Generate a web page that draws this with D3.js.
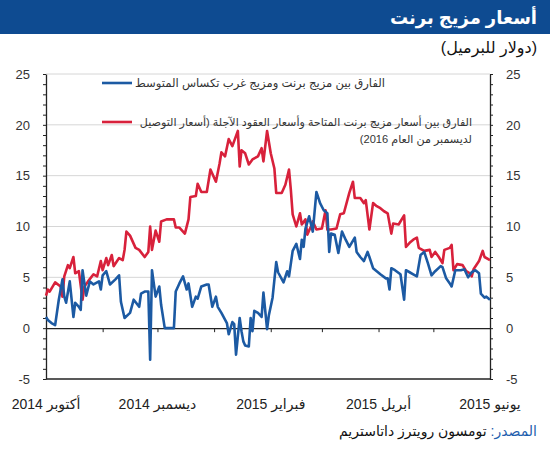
<!DOCTYPE html>
<html>
<head>
<meta charset="utf-8">
<script src="https://cdn.jsdelivr.net/npm/d3@7"></script>
<style>
  body { margin: 0; background: #fff; }
  svg { display: block; font-family: Arial, "Liberation Sans", "DejaVu Sans", sans-serif; }
</style>
</head>
<body>
<svg id="fig" width="550" height="450"></svg>
<script>
// texts
const titleText = "أسعار مزيج برنت"
const unitText = "(دولار للبرميل)"
const blueName = "الفارق بين مزيج برنت ومزيج غرب تكساس المتوسط"
const redName = ["الفارق بين أسعار مزيج برنت المتاحة وأسعار العقود الآجلة (أسعار التوصيل",
                 "لديسمبر من العام 2016)"]
const sourceLabel = "المصدر:"
const sourceText = " تومسون رويترز داتاستريم"

// x axis labels
const monthLabels = ["أكتوبر 2014", "ديسمبر 2014", "فبراير 2015", "أبريل 2015", "يونيو 2015"]
const monthLabelDates = ["2014-10-01", "2014-12-01", "2015-02-01", "2015-04-01", "2015-06-01"]
const yTicks = [-5, 0, 5, 10, 15, 20, 25]

// Brent - WTI spread
const blueDates = ["2014-10-01","2014-10-02","2014-10-04","2014-10-06","2014-10-08","2014-10-10","2014-10-11","2014-10-12",
  "2014-10-14","2014-10-16","2014-10-17","2014-10-19","2014-10-20","2014-10-21","2014-10-23","2014-10-25","2014-10-27",
  "2014-10-30","2014-10-31","2014-11-01","2014-11-03","2014-11-05","2014-11-08","2014-11-10","2014-11-11","2014-11-13",
  "2014-11-16","2014-11-18","2014-11-21","2014-11-22","2014-11-24","2014-11-26","2014-11-27","2014-11-28","2014-11-30",
  "2014-12-02","2014-12-03","2014-12-05","2014-12-10","2014-12-11","2014-12-13","2014-12-15","2014-12-17","2014-12-18",
  "2014-12-20","2014-12-22","2014-12-23","2014-12-25","2014-12-28","2014-12-29","2014-12-31","2015-01-02","2015-01-03",
  "2015-01-05","2015-01-08","2015-01-09","2015-01-11","2015-01-12","2015-01-13","2015-01-15","2015-01-16","2015-01-17",
  "2015-01-18","2015-01-20","2015-01-21","2015-01-22","2015-01-23","2015-01-25","2015-01-27","2015-01-28","2015-01-30",
  "2015-01-31","2015-02-02","2015-02-04","2015-02-05","2015-02-08","2015-02-10","2015-02-11","2015-02-13","2015-02-15",
  "2015-02-17","2015-02-18","2015-02-19","2015-02-20","2015-02-22","2015-02-24","2015-02-26","2015-02-28","2015-03-02",
  "2015-03-04","2015-03-05","2015-03-06","2015-03-08","2015-03-10","2015-03-12","2015-03-14","2015-03-16","2015-03-19",
  "2015-03-20","2015-03-22","2015-03-24","2015-03-26","2015-03-27","2015-03-29","2015-03-31","2015-04-02","2015-04-05",
  "2015-04-06","2015-04-07","2015-04-08","2015-04-10","2015-04-13","2015-04-15","2015-04-16","2015-04-18","2015-04-20",
  "2015-04-22","2015-04-24","2015-04-26","2015-04-28","2015-04-30","2015-05-02","2015-05-05","2015-05-06","2015-05-08",
  "2015-05-10","2015-05-11","2015-05-13","2015-05-16","2015-05-18","2015-05-20","2015-05-22","2015-05-24","2015-05-26",
  "2015-05-27","2015-05-29","2015-05-30","2015-06-01"]
const blueValues = [1.1,0.8,0.5,0.3,2.8,4.8,3.1,2.5,
  4.6,1.1,2.5,2.1,1.8,5.7,3.2,4.6,4.3,
  4.6,3.8,5.2,5.6,4.3,4.8,5.2,2.6,1.0,
  1.5,2.8,2.1,3.4,3.6,3.6,-3.1,5.7,3.1,
  4.1,2.3,0.0,0.0,3.6,4.4,5.1,3.8,4.4,
  2.1,3.1,2.9,4.1,4.3,4.3,2.1,3.1,2.1,
  1.5,0.5,-0.6,0.6,0.4,-2.6,1.0,-0.3,-1.3,
  -1.7,-1.8,1.0,-0.3,1.7,1.5,1.1,3.5,-0.1,
  1.3,3.0,6.5,5.5,4.5,5.6,5.1,7.6,8.3,
  6.8,8.7,8.0,9.8,11.0,9.5,13.4,12.3,11.6,
  11.3,7.5,9.3,9.2,7.4,9.5,8.7,8.0,8.9,
  7.5,7.0,6.6,7.5,7.0,5.9,5.6,5.3,4.9,
  4.9,3.8,5.9,5.7,5.3,2.8,5.7,5.5,5.3,
  5.1,7.2,7.5,6.4,5.2,5.6,6.1,6.0,4.9,
  4.4,4.1,5.7,5.7,5.8,5.0,5.5,5.7,5.4,
  3.4,3.0,3.1,2.8]

// Brent spot - Dec 2016 futures spread
const redDates = ["2014-10-01","2014-10-02","2014-10-03","2014-10-06","2014-10-09","2014-10-10","2014-10-11","2014-10-13",
  "2014-10-14","2014-10-16","2014-10-17","2014-10-19","2014-10-21","2014-10-22","2014-10-24","2014-10-27","2014-10-29",
  "2014-10-31","2014-11-01","2014-11-03","2014-11-04","2014-11-06","2014-11-07","2014-11-10","2014-11-12","2014-11-13",
  "2014-11-14","2014-11-16","2014-11-19","2014-11-21","2014-11-24","2014-11-26","2014-11-27","2014-11-28","2014-11-30",
  "2014-12-02","2014-12-03","2014-12-06","2014-12-10","2014-12-11","2014-12-13","2014-12-16","2014-12-18","2014-12-19",
  "2014-12-22","2014-12-23","2014-12-25","2014-12-28","2014-12-30","2015-01-02","2015-01-04","2015-01-05","2015-01-07",
  "2015-01-09","2015-01-11","2015-01-14","2015-01-15","2015-01-16","2015-01-18","2015-01-20","2015-01-22","2015-01-25",
  "2015-01-27","2015-01-28","2015-01-30","2015-02-01","2015-02-03","2015-02-04","2015-02-07","2015-02-09","2015-02-11",
  "2015-02-12","2015-02-13","2015-02-15","2015-02-17","2015-02-18","2015-02-20","2015-02-21","2015-02-23","2015-02-24",
  "2015-02-26","2015-03-01","2015-03-03","2015-03-04","2015-03-06","2015-03-09","2015-03-11","2015-03-13","2015-03-16",
  "2015-03-18","2015-03-19","2015-03-22","2015-03-24","2015-03-25","2015-03-27","2015-03-29","2015-03-31","2015-04-02",
  "2015-04-04","2015-04-06","2015-04-08","2015-04-09","2015-04-12","2015-04-15","2015-04-16","2015-04-18","2015-04-20",
  "2015-04-22","2015-04-23","2015-04-26","2015-04-29","2015-04-30","2015-05-02","2015-05-04","2015-05-06","2015-05-07",
  "2015-05-10","2015-05-11","2015-05-12","2015-05-14","2015-05-17","2015-05-19","2015-05-21","2015-05-22","2015-05-23",
  "2015-05-26","2015-05-28","2015-05-29","2015-06-01"]
const redValues = [3.2,3.8,3.6,4.5,4.1,3.1,5.1,6.2,
  5.9,7.0,5.4,5.6,2.8,4.1,4.6,5.3,5.1,
  6.6,5.7,6.9,6.2,7.2,6.1,6.9,6.7,7.7,
  9.5,9.1,7.9,7.7,7.0,7.5,10.0,7.7,9.6,
  8.5,10.5,10.7,10.7,9.9,9.9,9.3,10.7,12.9,
  13.0,14.2,13.4,13.4,15.6,14.4,16.2,17.3,16.9,
  18.6,17.9,19.4,15.9,17.5,17.2,16.1,16.6,16.9,
  17.7,16.4,19.4,17.2,15.7,13.3,13.3,14.1,15.6,
  13.6,11.2,10.0,11.3,10.2,10.7,9.2,10.0,10.5,
  9.7,9.8,11.6,9.7,9.7,9.8,11.2,11.3,13.3,
  14.4,12.8,12.8,12.3,12.6,9.7,12.3,12.0,11.8,
  11.5,11.3,9.3,10.3,10.2,11.1,8.0,8.4,8.7,
  8.9,7.9,7.6,7.7,7.0,7.5,7.0,6.4,7.7,
  7.9,8.2,5.7,6.3,6.2,5.6,5.4,5.1,5.8,
  6.6,7.6,7.0,6.7]

const blueColor = "#1c5aa3"
const redColor = "#d8213b"
const parse = d3.utcParse("%Y-%m-%d")

const svg = d3.select("#fig")

// header band
svg.append("rect").attr("x", 0).attr("y", 0).attr("width", 550).attr("height", 34).attr("fill", "#0e4b91")
svg.append("text")
  .attr("x", 537).attr("y", 24)
  .attr("direction", "rtl").attr("text-anchor", "start")
  .attr("fill", "#fff").attr("font-size", 18).attr("font-weight", "bold")
  .text(titleText)
svg.append("text")
  .attr("x", 537).attr("y", 53)
  .attr("direction", "rtl").attr("text-anchor", "start")
  .attr("fill", "#111").attr("font-size", 16)
  .text(unitText)

// scales
let xScale = d3.scaleUtc()
  .domain([parse("2014-10-01"), parse("2015-06-01")])
  .range([46, 490])
let yScale = d3.scaleLinear()
  .domain([-5, 25])
  .range([379, 74])

// grid
svg.append("g")
  .selectAll("line")
  .data(yTicks.filter(v => v > 0))
  .join("line")
  .attr("x1", xScale.range()[0]).attr("x2", xScale.range()[1])
  .attr("y1", d => yScale(d)).attr("y2", d => yScale(d))
  .attr("stroke", "#d6d6d6").attr("stroke-width", 1)

// bottom frame at -5
svg.append("line")
  .attr("x1", xScale.range()[0]).attr("x2", xScale.range()[1])
  .attr("y1", yScale(-5)).attr("y2", yScale(-5))
  .attr("stroke", "#222").attr("stroke-width", 1.3)

// y axes, minor ticks every unit
const minorTicks = d3.range(-5, 26, 1)
function styleAxis(g){
  g.select(".domain").attr("stroke", "#222").attr("stroke-width", 1.3)
  g.selectAll(".tick line").attr("stroke", "#222")
  g.selectAll(".tick text").attr("fill", "#333").attr("font-size", 13)
    .attr("font-family", "Arial, 'Liberation Sans', sans-serif")
}
svg.append("g")
  .attr("transform", `translate(${xScale.range()[0]},0)`)
  .call(d3.axisLeft(yScale).tickValues(minorTicks).tickSize(3).tickSizeOuter(0).tickPadding(13)
    .tickFormat(d => yTicks.includes(d) ? d : ""))
  .call(styleAxis)
svg.append("g")
  .attr("transform", `translate(${xScale.range()[1]},0)`)
  .call(d3.axisRight(yScale).tickValues(minorTicks).tickSize(3).tickSizeOuter(0).tickPadding(13)
    .tickFormat(d => yTicks.includes(d) ? d : ""))
  .call(styleAxis)

// zero line with monthly ticks
svg.append("g")
  .attr("transform", `translate(0,${yScale(0)})`)
  .call(d3.axisBottom(xScale).ticks(d3.utcMonth.every(1)).tickSize(4).tickSizeOuter(0).tickFormat(""))
  .call(g => {
    g.select(".domain").attr("stroke", "#222").attr("stroke-width", 1.3)
    g.selectAll(".tick line").attr("stroke", "#222")
  })

// month labels under the frame
svg.append("g")
  .selectAll("text")
  .data(monthLabels)
  .join("text")
  .attr("x", (d, i) => xScale(parse(monthLabelDates[i])))
  .attr("y", 409)
  .attr("text-anchor", "middle")
  .attr("fill", "#222").attr("font-size", 14)
  .text(d => d)

// lines
const line = d3.line()
  .x(d => xScale(d[0]))
  .y(d => yScale(d[1]))
svg.append("path")
  .datum(redDates.map((d, i) => [parse(d), redValues[i]]))
  .attr("d", line)
  .attr("fill", "none").attr("stroke", redColor).attr("stroke-width", 2.6)
  .attr("stroke-linejoin", "round")
svg.append("path")
  .datum(blueDates.map((d, i) => [parse(d), blueValues[i]]))
  .attr("d", line)
  .attr("fill", "none").attr("stroke", blueColor).attr("stroke-width", 2.6)
  .attr("stroke-linejoin", "round")

// legend
let legend = svg.append("g")
legend.append("line").attr("x1", 102).attr("x2", 132).attr("y1", 83).attr("y2", 83)
  .attr("stroke", blueColor).attr("stroke-width", 2.6)
legend.append("text")
  .attr("x", 135).attr("y", 87)
  .attr("direction", "rtl").attr("text-anchor", "end")
  .attr("fill", "#333").attr("font-size", 11.6)
  .text(blueName)
legend.append("line").attr("x1", 102).attr("x2", 132).attr("y1", 122).attr("y2", 122)
  .attr("stroke", redColor).attr("stroke-width", 2.6)
legend.append("text")
  .attr("x", 472).attr("y", 126)
  .attr("direction", "rtl").attr("text-anchor", "start")
  .attr("fill", "#333").attr("font-size", 11.1)
  .selectAll("tspan")
  .data(redName)
  .join("tspan")
  .attr("x", 472)
  .attr("dy", (d, i) => i ? 17 : 0)
  .text(d => d)

// source
let src = svg.append("text")
  .attr("x", 537).attr("y", 436)
  .attr("direction", "rtl").attr("text-anchor", "start")
  .attr("font-size", 14)
src.append("tspan").attr("fill", "#1f5fae").text(sourceLabel)
src.append("tspan").attr("fill", "#111").text(sourceText)
</script>
</body>
</html>
